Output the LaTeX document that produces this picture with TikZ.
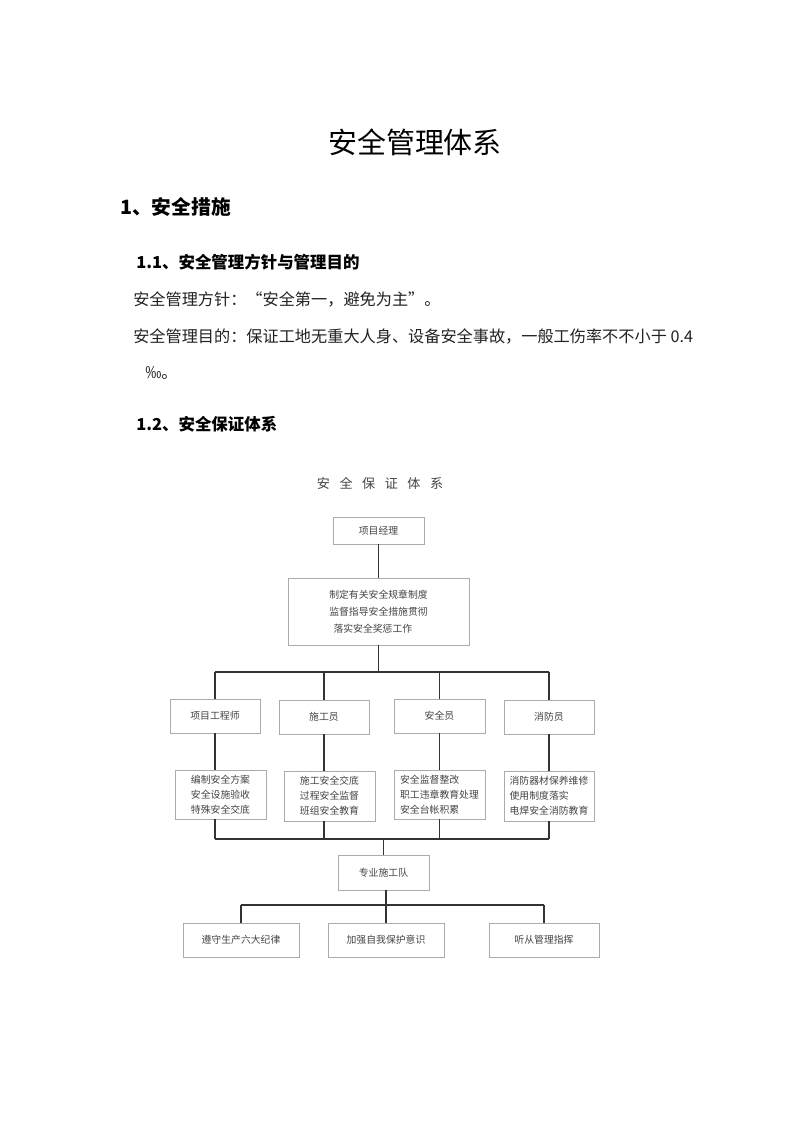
\documentclass[tikz,border=0pt]{standalone}
\usepackage{fontspec}
\newfontfamily\cjk{Noto Sans CJK SC}
\usetikzlibrary{positioning,calc}
\definecolor{rahmen}{HTML}{ABABAB}
\definecolor{linie}{HTML}{333333}
\definecolor{schrift}{HTML}{444444}
\definecolor{fliess}{HTML}{222222}

\tikzset{
  kasten/.style={draw=rahmen, line width=0.6pt, inner sep=0pt, text=schrift,
    align=center, font=\cjk\fontsize{7}{10.7}\selectfont},
  masse/.style 2 args={minimum width=#1*0.025cm, minimum height=#2*0.025cm},
  verbind/.style={draw=linie, line width=0.9pt},
  kopf/.style={anchor=west, inner sep=0pt, font=\cjk\bfseries},
  absatz/.style={anchor=west, inner sep=0pt, text=fliess, font=\cjk\fontsize{11.5}{14}\selectfont}
}
\newcommand{\sperr}{\hspace{6.8pt}}

\begin{document}
\begin{tikzpicture}[x=0.025cm, y=-0.025cm]
  \useasboundingbox[fill=white] (0,0) rectangle (800,1131);

  \node[inner sep=0pt, font=\cjk\fontsize{20.6}{24}\selectfont] (titel) at (415,142) {安全管理体系};
  \node[kopf, font=\cjk\bfseries\fontsize{14}{16}\selectfont] (h1) at (120,207) {1、安全措施};
  \node[kopf, font=\cjk\bfseries\fontsize{11.7}{14}\selectfont] (h11) at (136,262) {1.1、安全管理方针与管理目的};
  \node[absatz] (fangzhen) at (133,299) {安全管理方针：“安全第一，避免为主”。};
  \node[absatz] (mudi) at (133,336) {安全管理目的：保证工地无重大人身、设备安全事故，一般工伤率不不小于 0.4};
  \node[absatz] (mudi2) at (145,373) {‰。};
  \node[kopf, font=\cjk\bfseries\fontsize{11.7}{14}\selectfont] (h12) at (136,424) {1.2、安全保证体系};

  \node[inner sep=0pt, text=schrift, font=\cjk\fontsize{9.3}{12}\selectfont] (dtitel) at (380,483)
        {安\sperr 全\sperr 保\sperr 证\sperr 体\sperr 系};

  \node[kasten, masse={91}{27}] (pm) at (378.5,530.5) {项目经理};
  \node[kasten, masse={181}{67}, align=left,
        font=\cjk\fontsize{7}{12}\selectfont] (pflicht) at (378.5,611.5)
        {制定有关安全规章制度\\监督指导安全措施贯彻\\\hspace{3pt}落实安全奖惩工作};

  \node[kasten, masse={90}{34}] (ing) at (215,716) {项目工程师};
  \node[kasten, masse={90}{34}] (bau) at (324,717) {施工员};
  \node[kasten, masse={91}{34}] (sich) at (439.5,716) {安全员};
  \node[kasten, masse={90}{34}] (brand) at (549,717) {消防员};

  \node[kasten, masse={91}{49}, align=left] (ing2) at (220.5,794.5)
        {编制安全方案\\安全设施验收\\特殊安全交底};
  \node[kasten, masse={91}{50}, align=left] (bau2) at (329.5,796)
        {施工安全交底\\过程安全监督\\班组安全教育};
  \node[kasten, masse={91}{49}, align=left] (sich2) at (439.5,794.5)
        {安全监督整改\\职工违章教育处理\\安全台帐积累};
  \node[kasten, masse={90}{50}, align=left] (brand2) at (549,796)
        {消防器材保养维修\\使用制度落实\\电焊安全消防教育};

  \node[kasten, masse={91}{35}] (team) at (383.5,872.5) {专业施工队};

  \node[kasten, masse={116}{34}] (reg1) at (241,940) {遵守生产六大纪律};
  \node[kasten, masse={116}{34}] (reg2) at (386,940) {加强自我保护意识};
  \node[kasten, masse={110}{34}] (reg3) at (544,940) {听从管理指挥};

  \coordinate (busA) at (378.5,672);
  \coordinate (busB) at (383.5,839);
  \coordinate (busC) at (386,905);

  \draw[verbind] (pm.south) -- (pflicht.north);
  \draw[verbind] (pflicht.south) -- (busA);
  \draw[verbind] (ing.north |- busA) -- (brand.north |- busA);
  \draw[verbind] (ing.south |- busB) -- (brand.south |- busB);
  \foreach \n/\m in {ing/ing2, bau/bau2, sich/sich2, brand/brand2}{
    \draw[verbind] (\n.north) -- (\n.north |- busA);
    \draw[verbind] (\n.south) -- (\n.south |- \m.north);
    \draw[verbind] (\n.south |- \m.south) -- (\n.south |- busB);
  }
  \draw[verbind] (busB) -- (team.north);
  \draw[verbind] (team.south -| busC) -- (busC);
  \draw[verbind] (reg1.north |- busC) -- (reg3.north |- busC);
  \foreach \n in {reg1, reg2, reg3}
    \draw[verbind] (\n.north) -- (\n.north |- busC);
\end{tikzpicture}
\end{document}
